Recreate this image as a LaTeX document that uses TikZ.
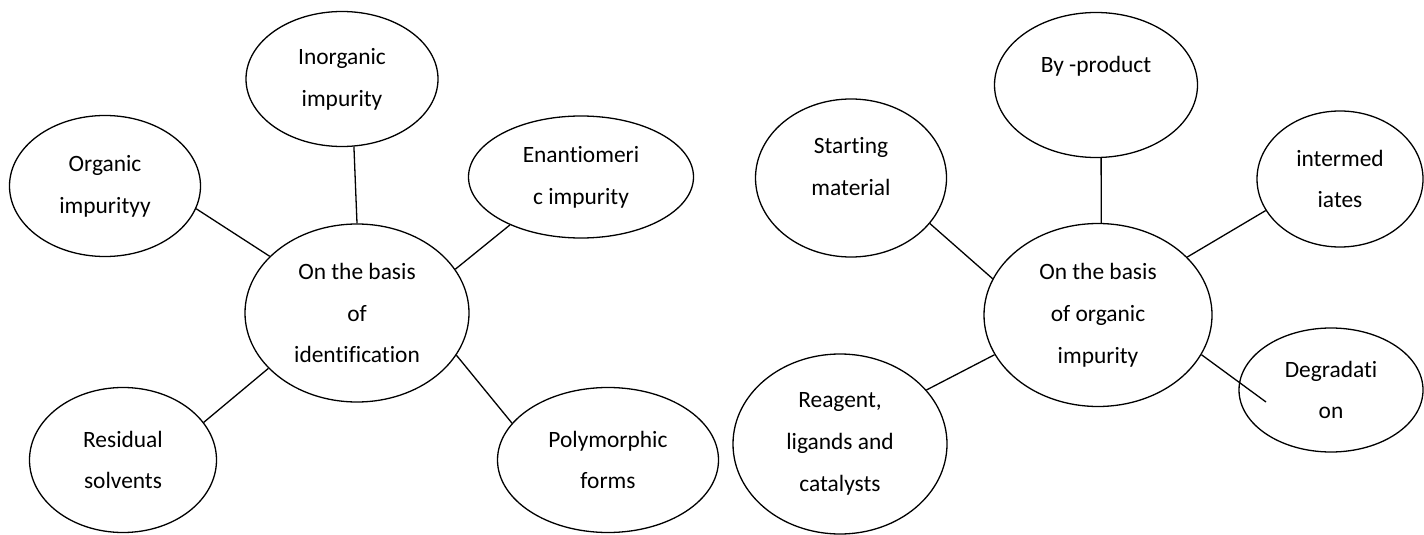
\documentclass[tikz,border=0pt]{standalone}
\usepackage{fontspec}
\setmainfont[Ligatures=NoCommon]{Carlito}
\usetikzlibrary{shapes.geometric}
\begin{document}
\begin{tikzpicture}[x=1bp, y=-1bp, line width=1.3bp,
    bubble/.style={draw, ellipse, inner sep=0pt, align=center, font=\fontsize{23.5}{42}\selectfont}]
    \useasboundingbox (0,0) rectangle (1424,535);

    \node[bubble, minimum width=224bp, minimum height=178bp] (iden) at (357,313) {On the basis\\of\\identification};
    \node[bubble, minimum width=192bp, minimum height=135bp] (inorg) at (342,79) {Inorganic\\impurity};
    \node[bubble, minimum width=191bp, minimum height=141bp] (org) at (105,186) {Organic\\impurityy};
    \node[bubble, minimum width=225bp, minimum height=122bp] (enant) at (581,177) {Enantiomeri\\c impurity};
    \node[bubble, minimum width=187bp, minimum height=145bp] (resid) at (123,460) {Residual\\solvents};
    \node[bubble, minimum width=221bp, minimum height=145bp] (poly) at (608,460) {Polymorphic\\forms};

    \draw (iden.90) -- (inorg.-80);
    \draw (iden.147) -- (org.-14);
    \draw (iden.24) -- (enant.-146);
    \draw (iden.212) -- (resid.25);
    \draw (iden.-23) -- (poly.159);

    \node[bubble, minimum width=228bp, minimum height=183bp] (orgb) at (1098,315) {On the basis\\of organic\\impurity};
    \node[bubble, minimum width=203bp, minimum height=145bp] (byprod) at (1096,85) {By -product\\\mbox{}};
    \node[bubble, minimum width=191bp, minimum height=158bp] (start) at (851,178) {Starting\\material\\[-18bp]\mbox{}};
    \node[bubble, minimum width=166bp, minimum height=136bp] (inter) at (1340,179) {intermed\\iates};
    \node[bubble, minimum width=184bp, minimum height=124bp] (degr) at (1331,390) {Degradati\\on};
    \node[bubble, minimum width=214bp, minimum height=180bp] (reag) at (840,444) {Reagent,\\ligands and\\catalysts};
    \coordinate (degrend) at (1266,402);

    \draw (orgb.88) -- (byprod.-86);
    \draw (orgb.161) -- (start.-30);
    \draw (orgb.33) -- (inter.-157);
    \draw (orgb.201) -- (reag.32);
    \draw (orgb.-21) -- (degrend);
\end{tikzpicture}
\end{document}
